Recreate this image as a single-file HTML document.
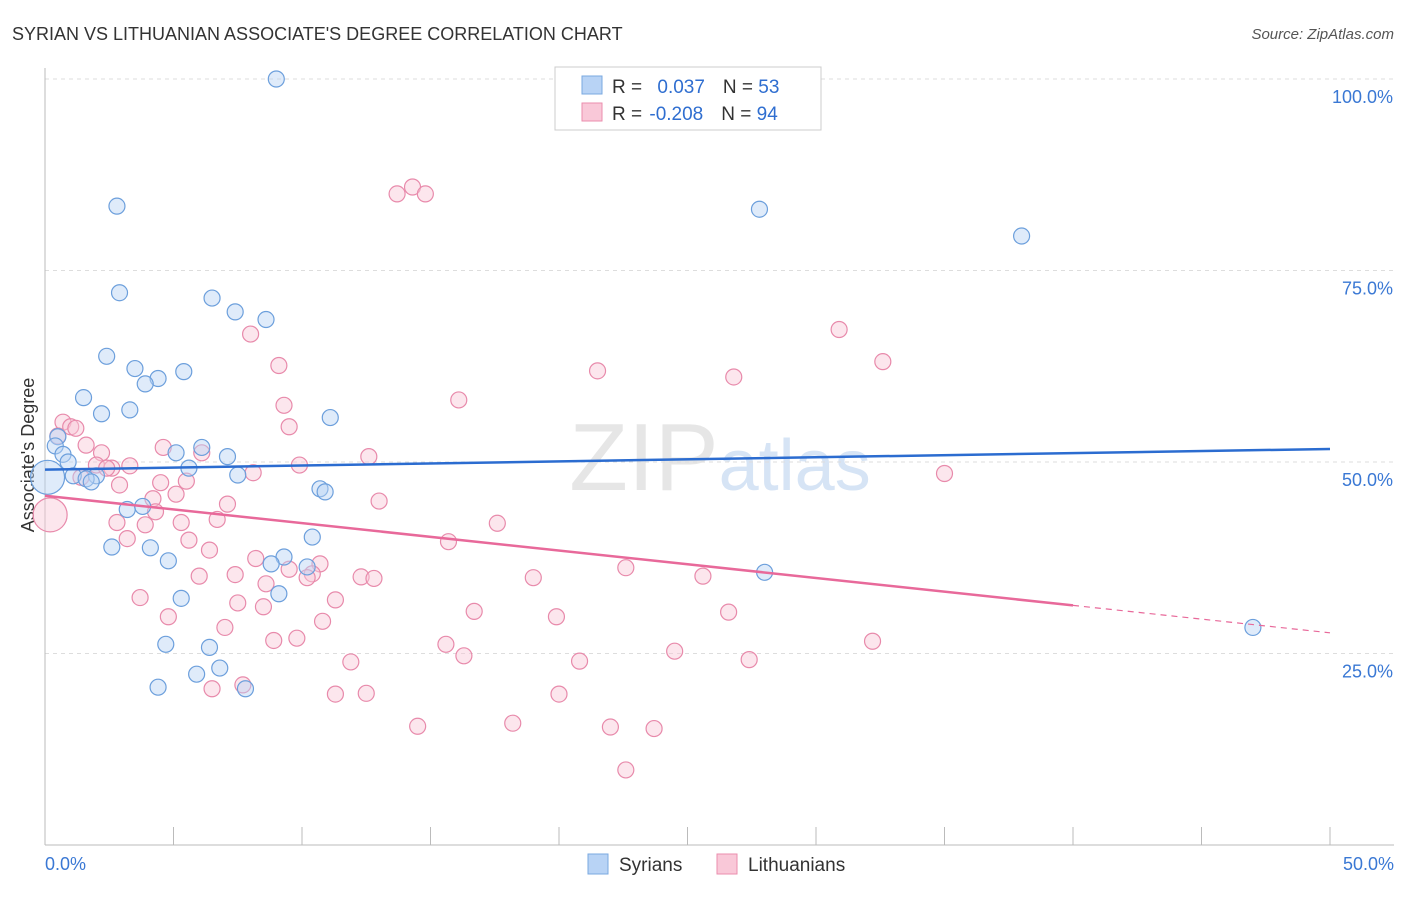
<!DOCTYPE html>
<html><head><meta charset="utf-8"><style>
body{margin:0;background:#fff;font-family:"Liberation Sans",sans-serif}
svg text{font-family:"Liberation Sans",sans-serif}
</style></head><body>
<svg id="chart" width="1406" height="892" viewBox="0 0 1406 892">
<text x="12" y="40" font-size="18" fill="#333">SYRIAN VS LITHUANIAN ASSOCIATE'S DEGREE CORRELATION CHART</text>
<text x="1394" y="39" font-size="15" fill="#555" font-style="italic" text-anchor="end">Source: ZipAtlas.com</text>
<text x="720" y="490" font-size="96" fill="#e6e6e6" text-anchor="middle" font-family="Liberation Serif">ZIP<tspan fill="#d6e4f5" font-family="Liberation Sans" font-size="72">atlas</tspan></text>
<g id="grid"></g>
<g id="axes"></g>
<text transform="translate(34,455) rotate(-90)" font-size="18" fill="#333" text-anchor="middle">Associate's Degree</text>
<g id="pts"></g>
<g id="trends"></g>
<g>
<rect x="555" y="67" width="266" height="63" fill="#fff" stroke="#ccc"/>
<rect x="582" y="76" width="20" height="18" fill="#b8d3f5" stroke="#7aa8e0"/>
<rect x="582" y="103" width="20" height="18" fill="#f9c8d8" stroke="#eb8eae"/>
<text x="612" y="93" font-size="19" fill="#333">R = <tspan fill="#2f6ed0" dx="10">0.037</tspan><tspan dx="18" fill="#333">N = </tspan><tspan fill="#2f6ed0">53</tspan></text>
<text x="612" y="120" font-size="19" fill="#333">R = <tspan fill="#2f6ed0" dx="2">-0.208</tspan><tspan dx="18" fill="#333">N = </tspan><tspan fill="#2f6ed0">94</tspan></text>
</g>
<g>
<rect x="588" y="854" width="20" height="20" fill="#b8d3f5" stroke="#7aa8e0"/>
<text x="619" y="871" font-size="19" fill="#333">Syrians</text>
<rect x="717" y="854" width="20" height="20" fill="#f9c8d8" stroke="#eb8eae"/>
<text x="748" y="871" font-size="19" fill="#333">Lithuanians</text>
</g>
</svg>
<script>
const xTicks=[0,5,10,15,20,25,30,35,40,45,50];
const yTicks=[25,50,75,100];
const yTickLabels=["25.0%","50.0%","75.0%","100.0%"];
const xTickLabels=["0.0%","50.0%"];
const syrX=[9.0,2.8,27.8,38.0,2.9,6.5,7.4,8.6,2.4,3.5,5.4,4.4,3.9,1.5,3.3,2.2,11.1,0.5,0.4,0.7,6.1,5.1,7.1,0.9,5.6,7.5,1.1,2.0,1.6,1.8,10.7,10.9,3.2,3.8,10.4,2.6,4.1,4.8,9.3,8.8,10.2,5.3,9.1,4.7,6.4,6.8,5.9,4.4,7.8,28.0,47.0,0.1];
const syrY=[100,83.4,83.0,79.5,72.1,71.4,69.6,68.6,63.8,62.2,61.8,60.9,60.2,58.4,56.8,56.3,55.8,53.3,52.1,51.0,51.9,51.2,50.7,50.0,49.2,48.3,48.2,48.2,47.8,47.4,46.5,46.1,43.8,44.2,40.2,38.9,38.8,37.1,37.6,36.7,36.3,32.2,32.8,26.2,25.8,23.1,22.3,20.6,20.4,35.6,28.4,48.0];
const litX=[14.3,13.7,14.8,30.9,32.6,8.0,9.1,21.5,26.8,16.1,9.3,9.5,0.7,1.0,1.2,0.5,4.6,1.6,2.2,6.1,12.6,9.9,2.0,2.6,3.3,2.4,8.1,35.0,1.4,4.5,2.9,5.5,5.1,4.2,13.0,7.1,4.3,6.7,2.8,3.9,5.3,17.6,15.7,3.2,5.6,6.4,8.2,10.7,22.6,9.5,7.4,6.0,12.3,12.8,19.0,25.6,10.4,10.2,8.6,3.7,11.3,7.5,8.5,16.7,26.6,4.8,19.9,10.8,7.0,8.9,9.8,15.6,32.2,16.3,24.5,11.9,20.8,27.4,7.7,6.5,11.3,12.5,20.0,14.5,18.2,22.0,23.7,22.6,0.2];
const litY=[85.9,85.0,85.0,67.3,63.1,66.7,62.6,61.9,61.1,58.1,57.4,54.6,55.2,54.6,54.4,53.4,51.9,52.2,51.2,51.2,50.7,49.6,49.6,49.2,49.5,49.2,48.6,48.5,48.0,47.3,47.0,47.5,45.8,45.2,44.9,44.5,43.5,42.5,42.1,41.8,42.1,42.0,39.6,40.0,39.8,38.5,37.4,36.7,36.2,36.0,35.3,35.1,35.0,34.8,34.9,35.1,35.4,34.9,34.1,32.3,32.0,31.6,31.1,30.5,30.4,29.8,29.8,29.2,28.4,26.7,27.0,26.2,26.6,24.7,25.3,23.9,24.0,24.2,20.9,20.4,19.7,19.8,19.7,15.5,15.9,15.4,15.2,9.8,43.1];
const syrBig=[51], litBig=[88];
const X0=45,X1=1330,Y0=845,Y100=79;
const sx=v=>X0+(v/50)*(X1-X0), sy=v=>Y0-(v/100)*(Y0-Y100);
const NS="http://www.w3.org/2000/svg";
function mk(t,a,p){const e=document.createElementNS(NS,t);for(const k in a)e.setAttribute(k,a[k]);p.appendChild(e);return e;}
const grid=document.getElementById('grid'),axes=document.getElementById('axes'),pts=document.getElementById('pts'),tr=document.getElementById('trends');
yTicks.forEach((t,i)=>{
 const l=mk('line',{x1:X0,x2:1394,y1:sy(t),y2:sy(t),stroke:'#ddd','stroke-dasharray':'4,4'},grid);
 
 
 const tx=mk('text',{x:1393,y:sy(t)+24,'font-size':18,fill:'#3a78d4','text-anchor':'end'},axes);tx.textContent=yTickLabels[i];
 
 
});
mk('line',{x1:X0,x2:X0,y1:68,y2:Y0,stroke:'#bbb'},axes);
mk('line',{x1:X0,x2:1394,y1:Y0,y2:Y0,stroke:'#bbb'},axes);
xTicks.forEach(t=>{const l=mk('line',{x1:sx(t),x2:sx(t),y1:Y0-18,y2:Y0,stroke:'#bbb'},axes);
 
 });
let a=mk('text',{x:45,y:870,'font-size':18,fill:'#3a78d4'},axes);a.textContent=xTickLabels[0];


a=mk('text',{x:1394,y:870,'font-size':18,fill:'#3a78d4','text-anchor':'end'},axes);a.textContent=xTickLabels[1];


function draw(xs,ys,big,fill,stroke,name){xs.forEach((x,i)=>{
 const c=mk('circle',{cx:sx(x),cy:sy(ys[i]),r:big.includes(i)?17:8,fill:fill,'fill-opacity':0.45,stroke:stroke,'stroke-width':1.2},pts);
 
 });}
draw(litX,litY,litBig,'#f9c8d8','#e88aab','lithuanian-point');
draw(syrX,syrY,syrBig,'#b8d3f5','#6c9fdc','syrian-point');
function fit(xs,ys){const n=xs.length,mx=xs.reduce((a,b)=>a+b)/n,my=ys.reduce((a,b)=>a+b)/n;let sxy=0,sxx=0;xs.forEach((x,i)=>{sxy+=(x-mx)*(ys[i]-my);sxx+=(x-mx)**2});const b=sxy/sxx;return[my-b*mx,b];}
// trend lines
const syrTrend=[49.0,51.7], litTrend=[45.6,27.7];
let l=mk('line',{x1:sx(0),y1:sy(syrTrend[0]),x2:sx(50),y2:sy(syrTrend[1]),stroke:'#2b6cd0','stroke-width':2.5},tr);


const lit40=litTrend[0]+(litTrend[1]-litTrend[0])*0.8;
l=mk('line',{x1:sx(0),y1:sy(litTrend[0]),x2:sx(40),y2:sy(lit40),stroke:'#e8699a','stroke-width':2.5},tr);


l=mk('line',{x1:sx(40),y1:sy(lit40),x2:sx(50),y2:sy(litTrend[1]),stroke:'#e8699a','stroke-width':1.2,'stroke-dasharray':'6,5'},tr);


</script>
</body></html>
